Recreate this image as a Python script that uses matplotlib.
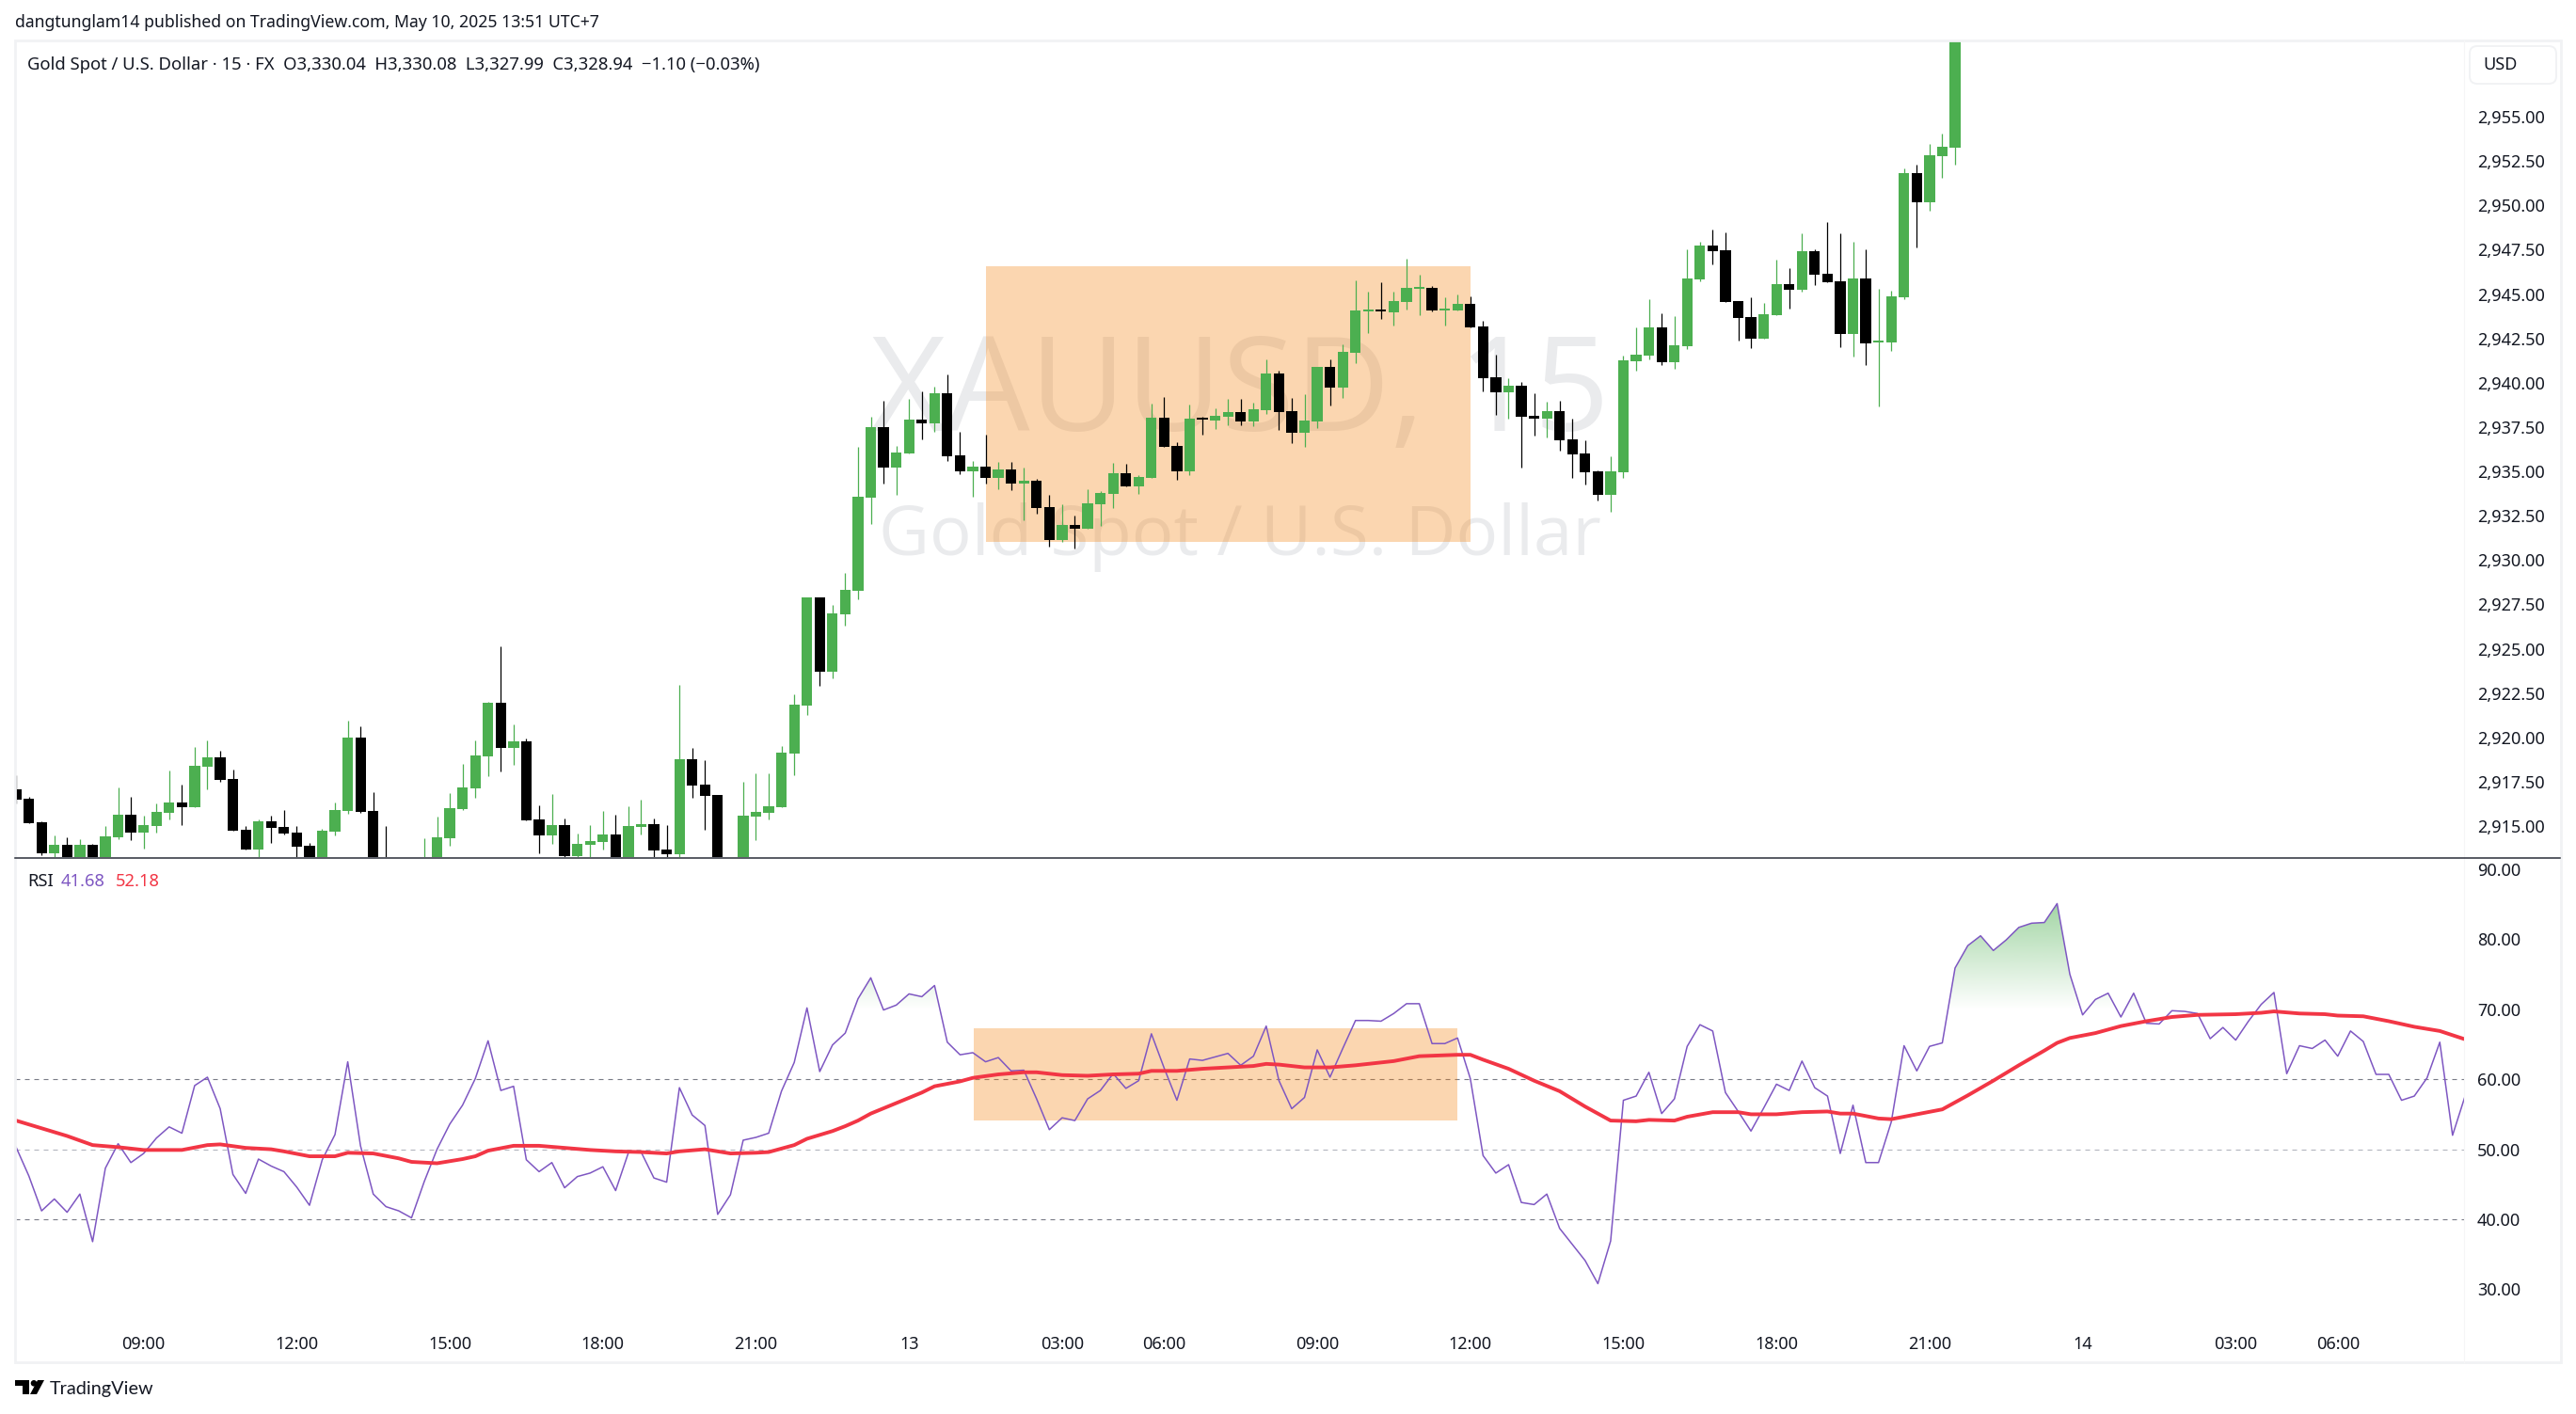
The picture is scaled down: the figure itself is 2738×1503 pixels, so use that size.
import numpy as np
import matplotlib
matplotlib.use('Agg')
import matplotlib.pyplot as plt
from matplotlib.patches import Rectangle, FancyBboxPatch, Circle, Polygon
from matplotlib.path import Path

W, H = 2738, 1503
UI_FONT = 'Noto Sans'

# candles, one per 15 min bar (bars below the pane are estimated)
opens = [2917.09, 2916.56, 2915.23, 2913.48, 2913.96, 2913.0, 2913.96, 2912.9, 2914.38, 2915.65,
         2914.65, 2915.02, 2915.76, 2916.34, 2916.08, 2918.36, 2918.89, 2917.67, 2914.81, 2913.69,
         2915.28, 2914.97, 2914.65, 2913.90, 2912.9, 2914.70, 2915.87, 2920.01, 2915.87, 2912.6,
         2911.0, 2911.6, 2912.3, 2913.0, 2914.33, 2915.97, 2917.14, 2918.94, 2921.97, 2919.42,
         2919.79, 2915.39, 2914.49, 2915.07, 2913.32, 2913.96, 2914.12, 2914.54, 2912.9, 2914.97,
         2915.12, 2913.69, 2913.43, 2918.78, 2917.35, 2916.77, 2912.2, 2912.9, 2915.55, 2915.76,
         2916.08, 2919.10, 2921.81, 2927.90, 2923.70, 2926.94, 2928.27, 2933.52, 2937.50, 2935.22,
         2936.01, 2937.92, 2937.71, 2939.41, 2935.91, 2935.00, 2935.27, 2934.63, 2935.11, 2934.32,
         2934.47, 2932.99, 2931.13, 2931.98, 2931.77, 2933.15, 2933.73, 2934.90, 2934.16, 2934.63,
         2938.03, 2936.44, 2935.00, 2938.00, 2937.87, 2938.08, 2938.35, 2937.82, 2938.45, 2940.52,
         2938.40, 2937.18, 2937.82, 2940.89, 2939.73, 2941.69, 2944.03, 2944.08, 2943.97, 2944.55,
         2945.30, 2945.35, 2944.08, 2944.08, 2944.45, 2943.17, 2940.31, 2939.45, 2939.83, 2938.13,
         2937.97, 2938.39, 2936.80, 2936.00, 2935.00, 2933.67, 2934.94, 2941.21, 2941.54, 2943.13,
         2941.16, 2942.07, 2945.82, 2947.73, 2947.47, 2944.60, 2943.70, 2942.48, 2943.81, 2945.55,
         2945.25, 2947.41, 2946.14, 2945.72, 2942.75, 2945.87, 2942.27, 2942.27, 2944.81, 2951.82,
         2950.18, 2952.77, 2953.24]
highs = [2917.88, 2916.66, 2915.28, 2914.49, 2914.38, 2914.28, 2914.01, 2915.02, 2917.19, 2916.66,
         2915.60, 2916.29, 2918.15, 2917.35, 2919.47, 2919.85, 2919.26, 2918.20, 2915.02, 2915.39,
         2915.60, 2915.92, 2915.02, 2914.06, 2914.86, 2916.34, 2920.96, 2920.64, 2916.93, 2915.02,
         2912.2, 2912.9, 2914.33, 2915.55, 2916.88, 2918.52, 2919.85, 2922.02, 2925.15, 2920.75,
         2919.95, 2916.19, 2916.82, 2915.44, 2914.59, 2915.07, 2915.87, 2915.65, 2916.13, 2916.50,
         2915.44, 2915.07, 2922.98, 2919.42, 2918.73, 2916.77, 2913.1, 2917.51, 2917.99, 2917.99,
         2919.53, 2922.45, 2927.90, 2927.90, 2927.47, 2929.27, 2936.38, 2938.08, 2938.98, 2936.44,
         2939.09, 2939.51, 2939.78, 2940.47, 2937.23, 2935.59, 2937.07, 2935.53, 2935.53, 2935.22,
         2934.58, 2933.68, 2933.15, 2932.51, 2934.00, 2933.89, 2935.48, 2935.43, 2934.79, 2938.82,
         2939.20, 2936.65, 2938.77, 2938.06, 2938.56, 2939.09, 2939.09, 2938.88, 2941.32, 2940.68,
         2939.14, 2939.35, 2940.89, 2941.32, 2942.17, 2945.77, 2945.14, 2945.67, 2945.14, 2946.99,
         2946.09, 2945.46, 2944.82, 2944.98, 2944.87, 2943.49, 2941.58, 2940.25, 2940.04, 2939.41,
         2938.92, 2938.98, 2937.97, 2936.76, 2935.06, 2935.85, 2941.54, 2943.13, 2944.72, 2943.92,
         2943.75, 2947.52, 2947.94, 2948.64, 2948.47, 2944.60, 2944.81, 2944.49, 2946.94, 2946.46,
         2948.43, 2947.52, 2949.06, 2948.43, 2947.94, 2947.52, 2945.29, 2945.19, 2952.09, 2952.30,
         2953.47, 2954.04, 2960.5]
lows = [2916.29, 2915.18, 2913.37, 2913.1, 2912.8, 2912.8, 2912.7, 2912.7, 2914.28, 2914.22,
        2913.75, 2914.65, 2915.39, 2915.07, 2916.08, 2917.09, 2917.51, 2914.75, 2913.69, 2913.2,
        2914.06, 2914.54, 2913.2, 2912.7, 2912.7, 2914.49, 2915.71, 2915.76, 2912.3, 2911.2,
        2910.7, 2911.2, 2912.0, 2912.7, 2913.90, 2915.92, 2916.61, 2917.83, 2918.10, 2918.47,
        2915.34, 2913.48, 2914.01, 2913.2, 2913.2, 2913.2, 2913.69, 2912.7, 2912.7, 2914.54,
        2913.2, 2913.1, 2913.1, 2916.61, 2914.81, 2912.0, 2911.9, 2912.7, 2914.22, 2915.39,
        2916.08, 2917.88, 2921.28, 2922.91, 2923.33, 2926.30, 2927.79, 2932.03, 2934.32, 2933.68,
        2936.01, 2936.81, 2937.23, 2935.59, 2934.85, 2933.57, 2934.32, 2934.00, 2933.94, 2932.25,
        2932.62, 2930.76, 2931.03, 2930.65, 2931.77, 2931.93, 2932.94, 2934.16, 2933.73, 2934.63,
        2936.38, 2934.53, 2934.79, 2937.07, 2937.39, 2937.60, 2937.60, 2937.55, 2938.24, 2937.34,
        2936.60, 2936.38, 2937.44, 2938.72, 2939.14, 2941.11, 2942.80, 2943.60, 2943.23, 2944.13,
        2943.81, 2944.03, 2943.23, 2944.08, 2943.12, 2939.51, 2938.19, 2937.97, 2935.21, 2937.03,
        2936.91, 2936.17, 2934.64, 2934.26, 2933.35, 2932.73, 2934.64, 2940.68, 2941.31, 2941.00,
        2940.78, 2941.90, 2945.72, 2946.67, 2944.55, 2942.37, 2941.95, 2942.48, 2943.81, 2944.19,
        2945.14, 2945.52, 2945.67, 2942.01, 2941.48, 2941.00, 2938.66, 2941.80, 2944.72, 2947.64,
        2949.70, 2951.56, 2952.30]
closes = [2916.50, 2915.18, 2913.48, 2913.96, 2913.0, 2913.96, 2912.9, 2914.43, 2915.65, 2914.65,
          2915.07, 2915.81, 2916.34, 2916.08, 2918.41, 2918.89, 2917.62, 2914.75, 2913.69, 2915.28,
          2914.91, 2914.59, 2913.85, 2912.9, 2914.75, 2915.92, 2920.01, 2915.81, 2912.5, 2911.5,
          2911.6, 2912.4, 2913.1, 2914.38, 2916.03, 2917.19, 2919.00, 2921.97, 2919.42, 2919.79,
          2915.34, 2914.49, 2915.07, 2913.32, 2914.01, 2914.17, 2914.54, 2912.9, 2915.02, 2915.12,
          2913.64, 2913.43, 2918.78, 2917.30, 2916.72, 2912.2, 2912.9, 2915.60, 2915.81, 2916.13,
          2919.16, 2921.86, 2927.90, 2923.70, 2926.99, 2928.32, 2933.57, 2937.50, 2935.22, 2936.07,
          2937.92, 2937.71, 2939.41, 2935.85, 2935.00, 2935.27, 2934.63, 2935.11, 2934.32, 2934.47,
          2932.94, 2931.13, 2931.98, 2931.77, 2933.20, 2933.78, 2934.90, 2934.16, 2934.69, 2938.03,
          2936.38, 2935.00, 2937.98, 2937.92, 2938.13, 2938.35, 2937.82, 2938.51, 2940.52, 2938.35,
          2937.18, 2937.87, 2940.89, 2939.73, 2941.74, 2944.08, 2944.08, 2944.03, 2944.61, 2945.35,
          2945.38, 2944.08, 2944.13, 2944.45, 2943.12, 2940.26, 2939.46, 2939.83, 2938.09, 2937.97,
          2938.39, 2936.76, 2935.97, 2934.94, 2933.67, 2935.00, 2941.27, 2941.57, 2943.13, 2941.16,
          2942.10, 2945.87, 2947.73, 2947.41, 2944.55, 2943.66, 2942.48, 2943.87, 2945.55, 2945.25,
          2947.41, 2946.08, 2945.67, 2942.75, 2945.87, 2942.22, 2942.31, 2944.87, 2951.82, 2950.18,
          2952.83, 2953.30, 2960.0]

# RSI, every bar
rsi = [50.3, 46.2, 41.2, 42.9, 41.0, 43.6, 36.8, 47.3, 50.8, 48.1,
       49.4, 51.6, 53.2, 52.3, 59.1, 60.3, 55.8, 46.4, 43.7, 48.6,
       47.6, 46.8, 44.6, 42.0, 48.5, 52.1, 62.5, 50.5, 43.6, 41.8,
       41.2, 40.2, 45.4, 50.0, 53.6, 56.3, 60.1, 65.5, 58.4, 59.0,
       48.5, 46.8, 48.1, 44.5, 46.1, 46.6, 47.5, 44.1, 49.5, 49.6,
       45.9, 45.3, 58.8, 54.9, 53.4, 40.7, 43.5, 51.3, 51.7, 52.3,
       58.3, 62.4, 70.2, 61.1, 64.9, 66.6, 71.5, 74.5, 69.9, 70.6,
       72.2, 71.8, 73.4, 65.3, 63.5, 63.8, 62.5, 63.1, 61.2, 61.3,
       57.2, 52.8, 54.5, 54.1, 57.2, 58.4, 60.8, 58.7, 59.8, 66.5,
       61.6, 57.0, 62.9, 62.7, 63.2, 63.7, 62.0, 63.3, 67.6, 59.8,
       55.8, 57.4, 64.2, 60.3, 64.4, 68.4, 68.4, 68.3, 69.4, 70.8,
       70.8, 65.1, 65.1, 65.9, 60.1, 49.1, 46.6, 47.8, 42.4, 42.1,
       43.6, 38.7, 36.4, 34.1, 30.8, 36.9, 57.0, 57.6, 61.0, 55.1,
       57.2, 64.7, 67.8, 66.9, 58.1, 55.4, 52.6, 55.9, 59.3, 58.4,
       62.6, 58.8, 57.6, 49.4, 56.3, 48.1, 48.1, 53.9, 64.8, 61.2,
       64.7, 65.2, 75.9, 79.1, 80.5, 78.4, 79.9, 81.7, 82.3, 82.4,
       85.1, 75.0, 69.2, 71.4, 72.3, 68.9, 72.3, 68.0, 67.9, 69.8,
       69.7, 69.4, 65.8, 67.4, 65.6, 68.3, 70.7, 72.4, 60.8, 64.8,
       64.4, 65.6, 63.3, 66.9, 65.4, 60.7, 60.7, 57.0, 57.6, 60.2,
       65.3, 52.0, 57.7]

# RSI moving average, read at the bars where it bends
ma_bars = [0, 2, 4, 6, 8, 10, 12, 13, 15, 16, 18, 20, 21, 23, 25, 26, 28, 30, 31, 33,
           35, 36, 37, 39, 41, 43, 45, 47, 49, 51, 52, 54, 56, 58, 59, 61, 62, 64, 65, 66,
           67, 69, 71, 72, 74, 75, 77, 79, 80, 82, 84, 86, 88, 89, 91, 93, 95, 97, 98, 99,
           101, 103, 105, 108, 110, 113, 114, 115, 117, 119, 121, 123, 125, 127, 128, 130, 131, 133, 135, 136,
           138, 140, 142, 143, 144, 146, 147, 149, 151, 153, 155, 157, 159, 160, 161, 163, 165, 167, 169, 171,
           174, 176, 177, 179, 181, 182, 184, 186, 188, 190, 192]
ma_values = [54.1, 53.0, 51.9, 50.6, 50.3, 49.9, 49.9, 49.9, 50.6, 50.7, 50.2, 50.0, 49.7, 49.0, 49.0, 49.5, 49.4, 48.7, 48.2, 48.0,
             48.6, 49.0, 49.8, 50.5, 50.5, 50.2, 49.9, 49.7, 49.6, 49.4, 49.7, 50.0, 49.4, 49.5, 49.6, 50.6, 51.5, 52.6, 53.3, 54.1,
             55.1, 56.6, 58.1, 59.0, 59.7, 60.2, 60.7, 61.0, 61.0, 60.6, 60.5, 60.7, 60.8, 61.2, 61.2, 61.5, 61.7, 61.9, 62.2, 62.1,
             61.7, 61.7, 62.0, 62.6, 63.3, 63.5, 63.5, 62.8, 61.5, 59.8, 58.3, 56.1, 54.1, 54.0, 54.2, 54.1, 54.65, 55.3, 55.3, 55.0,
             55.0, 55.3, 55.4, 55.1, 55.1, 54.4, 54.3, 55.0, 55.7, 57.7, 59.8, 62.0, 64.1, 65.2, 65.9, 66.6, 67.6, 68.3, 68.9, 69.2,
             69.3, 69.5, 69.7, 69.4, 69.3, 69.1, 69.0, 68.3, 67.5, 66.9, 65.7]

time_ticks = [10, 22, 34, 46, 58, 70, 82, 90, 102, 114, 126, 138, 150, 162, 174, 182]
time_labels = ['09:00', '12:00', '15:00', '18:00', '21:00', '13', '03:00', '06:00', '09:00', '12:00',
               '15:00', '18:00', '21:00', '14', '03:00', '06:00']
price_ticks = [2915.0, 2917.5, 2920.0, 2922.5, 2925.0, 2927.5, 2930.0, 2932.5, 2935.0, 2937.5,
               2940.0, 2942.5, 2945.0, 2947.5, 2950.0, 2952.5, 2955.0]
rsi_ticks = [30, 40, 50, 60, 70, 80, 90]
rsi_levels = [60, 50, 40]
rsi_level_colors = ['#787B86', '#B2B5BE', '#787B86']

GREEN = '#4CAF50'
BLACK = '#000000'
TEXT = '#131722'
FRAME = '#F1F2F4'


def axes_px(fig, left, top, right, bottom):
    return fig.add_axes([left / W, 1 - bottom / H, (right - left) / W, (bottom - top) / H])


def fx(x):
    return x / W


def fy(y):
    return 1 - y / H


plt.rcParams['font.family'] = [UI_FONT, 'DejaVu Sans']
fig = plt.figure(figsize=(W / 100, H / 100), dpi=100, facecolor='white')

xlim = (-0.08, 191.9)

# price pane
ax = axes_px(fig, 16, 43, 2619, 911)
ax.set_xlim(*xlim)
ax.set_ylim(2913.25, 2959.3)

ax.text(0.5, 0.522, 'XAUUSD, 15', transform=ax.transAxes, ha='center', va='baseline',
        fontsize=101, color='#EAEBED', family='Open Sans', zorder=0)
ax.text(0.5, 0.370, 'Gold Spot / U.S. Dollar', transform=ax.transAxes, ha='center', va='baseline',
        fontsize=53.6, color='#EAEBED', family='Open Sans', zorder=0)

ax.add_patch(Rectangle((76, 2931.04), 38, 15.53, facecolor='#F57C00', alpha=0.31, lw=0, zorder=1))

bars = np.arange(len(opens))
o = np.array(opens)
c = np.array(closes)
candle_colors = [GREEN if cl >= op else BLACK for op, cl in zip(o, c)]
ax.vlines(bars, lows, highs, colors=candle_colors, lw=0.9, zorder=2)
body_low = np.minimum(o, c)
body_h = np.maximum(np.abs(c - o), 0.1)
ax.bar(bars, body_h, bottom=body_low, width=0.83, color=candle_colors, lw=0, zorder=3)

# RSI pane
ax2 = axes_px(fig, 16, 911, 2619, 1405)
ax2.set_xlim(*xlim)
ax2.set_ylim(25.35, 91.75)

for level, col in zip(rsi_levels, rsi_level_colors):
    ax2.axhline(level, color=col, lw=0.8, dashes=(4.5, 4.5), zorder=1)

ax2.add_patch(Rectangle((75.1, 54.13), 37.9, 13.17, facecolor='#F57C00', alpha=0.31, lw=0, zorder=1))

rsi_bars = np.arange(len(rsi))
rsi_arr = np.array(rsi)
over = ax2.fill_between(rsi_bars, 70, rsi_arr, where=rsi_arr > 70, interpolate=True, color='none', lw=0)
grad = np.zeros((256, 2, 4))
grad[..., 0] = 76 / 255
grad[..., 1] = 175 / 255
grad[..., 2] = 80 / 255
grad[..., 3] = np.linspace(0.52, 0, 256)[:, None]
im = ax2.imshow(grad, extent=(0, 192, 70, 85.1), origin='upper', aspect='auto', zorder=2, interpolation='bilinear')
im.set_clip_path(Path.make_compound_path(*over.get_paths()), transform=ax2.transData)
ax2.set_xlim(*xlim)
ax2.set_ylim(25.35, 91.75)

ax2.plot(rsi_bars, rsi, color='#7E57C2', lw=1.1, zorder=3)
ax2.plot(ma_bars, ma_values, color='#F23645', lw=2.8, zorder=4, solid_joinstyle='round')

# axes ticks
for a in (ax, ax2):
    for s in a.spines.values():
        s.set_visible(False)
    a.yaxis.tick_right()
    a.tick_params(axis='y', length=0, pad=10, labelsize=13, labelcolor=TEXT)
ax.set_yticks(price_ticks)
ax.set_yticklabels(['{:,.2f}'.format(p) for p in price_ticks])
ax.set_xticks([])
ax2.set_yticks(rsi_ticks)
ax2.set_yticklabels(['{:.2f}'.format(v) for v in rsi_ticks])
ax2.set_xticks(time_ticks)
ax2.set_xticklabels(time_labels)
ax2.tick_params(axis='x', length=0, pad=11, labelsize=13, labelcolor=TEXT)

# frame and pane separator
fig.add_artist(Rectangle((fx(16), fy(1448)), (2722 - 16) / W, (1448 - 43) / H, transform=fig.transFigure,
                         facecolor='none', edgecolor=FRAME, lw=2))
fig.add_artist(plt.Line2D([fx(2619), fx(2619)], [fy(43), fy(1448)], color='#F6F6F7', lw=0.8))
fig.add_artist(plt.Line2D([fx(16), fx(2721)], [fy(911.5), fy(911.5)], color='#2A2E39', lw=1.1))

# header and legends
fig.text(fx(16), fy(24), 'dangtunglam14 published on TradingView.com, May 10, 2025 13:51 UTC+7',
         fontsize=12.7, color=TEXT, va='center')
fig.text(fx(29), fy(68.5), 'Gold Spot / U.S. Dollar · 15 · FX  O3,330.04  H3,330.08  L3,327.99  C3,328.94  −1.10 (−0.03%)',
         fontsize=13.3, color=TEXT, va='center')
fig.text(fx(29), fy(937), 'RSI', fontsize=13.2, color=TEXT, va='center')
fig.text(fx(65), fy(937), '41.68', fontsize=13.2, color='#7E57C2', va='center')
fig.text(fx(123), fy(937), '52.18', fontsize=13.2, color='#F23645', va='center')

# currency box
fig.add_artist(FancyBboxPatch((2627, H - 87), 88, 36, boxstyle='round,pad=2,rounding_size=8',
                              transform=None, facecolor='white', edgecolor=FRAME, lw=1.4))
fig.text(fx(2639), fy(68.5), 'USD', fontsize=13, color=TEXT, va='center')

# TradingView mark, drawn in figure pixels
for patch in [Polygon([(16, H - 1467), (31, H - 1467), (31, H - 1482), (24, H - 1482), (24, H - 1473), (16, H - 1473)],
                      closed=True, transform=None, facecolor=BLACK, lw=0),
              Circle((36, H - 1470.3), 3.3, transform=None, facecolor=BLACK, lw=0),
              Polygon([(40, H - 1467), (47, H - 1467), (39, H - 1482), (32, H - 1482)],
                      closed=True, transform=None, facecolor=BLACK, lw=0)]:
    fig.add_artist(patch)
fig.text(fx(53), fy(1482), 'TradingView', fontsize=14.3, color=TEXT, va='baseline', family='Lato')

fig.savefig('out.png', dpi=100)
